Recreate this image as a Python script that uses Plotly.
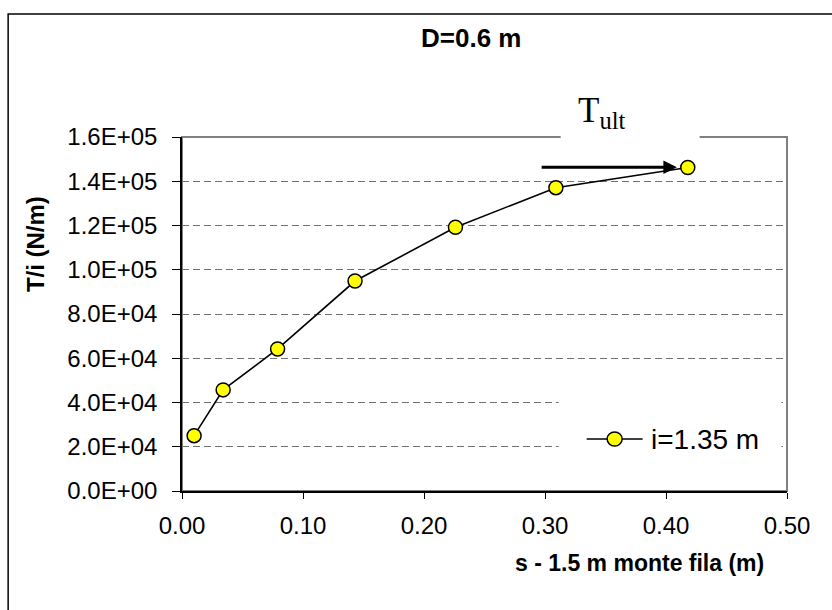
import plotly.graph_objects as go

# Measured settlement vs. tie force per unit spacing
s_disp = [0.010, 0.034, 0.079, 0.143, 0.226, 0.309, 0.418]
t_force = [25000, 45700, 64200, 94900, 119200, 137100, 146200]
series_name = "i=1.35 m"

y_ticks = [0, 20000, 40000, 60000, 80000, 100000, 120000, 140000, 160000]
y_ticktext = [f"{v:.1E}" for v in y_ticks]

# Arrow pointing at the ultimate value
arrow_y = 146300
arrow_x_from = 0.296
arrow_x_to = 0.409

SANS = "Liberation Sans, Arial, sans-serif"
SERIF = "Liberation Serif, Times New Roman, serif"

# plot-area pixel frame used for paper-coordinate placement
L, R, T, B = 182, 787.5, 137, 491


def px(x):
    return (x - L) / (R - L)


def py(y):
    return (B - y) / (B - T)


fig = go.Figure()
fig.add_trace(go.Scatter(
    x=s_disp, y=t_force, mode="lines+markers", name=series_name,
    line=dict(color="black", width=1.6),
    marker=dict(size=14, color="#FFFF00", line=dict(color="black", width=1.5)),
    showlegend=False, cliponaxis=False,
))

fig.update_layout(
    width=832, height=610,
    margin=dict(l=L, r=832 - R, t=T, b=610 - B),
    paper_bgcolor="white", plot_bgcolor="white",
    font=dict(family=SANS, size=24, color="black"),
    xaxis=dict(
        range=[0, 0.5], dtick=0.1, tickformat=".2f",
        showgrid=False, zeroline=False,
        showline=True, linecolor="black", linewidth=1.5,
        ticks="outside", ticklen=6, tickcolor="black", tickwidth=1,
        ticklabelstandoff=6,
        tickfont=dict(size=24, family=SANS),
    ),
    yaxis=dict(
        range=[0, 160000], tickvals=y_ticks, ticktext=y_ticktext,
        showgrid=True, gridcolor="#707070", gridwidth=1.2, griddash="7px,4px",
        zeroline=False,
        showline=True, linecolor="black", linewidth=1.5,
        ticks="outside", ticklen=8, tickcolor="black", tickwidth=1,
        ticklabelstandoff=10,
        tickfont=dict(size=24, family=SANS),
    ),
)

shapes = [
    # outer chart frame
    dict(type="rect", xref="paper", yref="paper",
         x0=px(8), x1=px(840), y0=py(620), y1=py(14),
         line=dict(color="black", width=1.5), fillcolor="rgba(0,0,0,0)", layer="below"),
    # plot-area border (top and right sides show in grey)
    dict(type="rect", xref="paper", yref="paper", x0=0, x1=1, y0=0, y1=1,
         line=dict(color="#808080", width=2), fillcolor="rgba(0,0,0,0)", layer="below"),
    # white backing behind the T_ult label
    dict(type="rect", xref="paper", yref="paper",
         x0=px(561), x1=px(700), y0=py(150), y1=py(95),
         line=dict(width=0), fillcolor="white", layer="above"),
    # legend box
    dict(type="rect", xref="paper", yref="paper",
         x0=px(559), x1=px(782), y0=py(478), y1=py(398),
         line=dict(width=0), fillcolor="white", layer="above"),
    # legend line sample
    dict(type="line", xref="paper", yref="paper",
         x0=px(587), x1=px(643), y0=py(439), y1=py(439),
         line=dict(color="black", width=1.6), layer="above"),
    # legend marker sample
    dict(type="circle", xref="paper", yref="paper",
         xsizemode="pixel", ysizemode="pixel",
         xanchor=px(615), yanchor=py(439),
         x0=-7.5, x1=7.5, y0=-7, y1=7,
         line=dict(color="black", width=1.5), fillcolor="#FFFF00", layer="above"),
]
fig.update_layout(shapes=shapes)

annotations = [
    dict(text="<b>D=0.6 m</b>", xref="paper", yref="paper",
         x=px(471), y=py(38), xanchor="center", yanchor="middle",
         showarrow=False, font=dict(size=26, family=SANS)),
    dict(text="<b>T/i (N/m)</b>", xref="paper", yref="paper",
         x=px(35), y=py(244), xanchor="center", yanchor="middle", textangle=-90,
         showarrow=False, font=dict(size=24, family=SANS)),
    dict(text="<b>s - 1.5 m monte fila (m)</b>", xref="paper", yref="paper",
         x=px(640), y=py(563), xanchor="center", yanchor="middle",
         showarrow=False, font=dict(size=23, family=SANS)),
    dict(text=series_name, xref="paper", yref="paper",
         x=px(649), y=py(439), xanchor="left", yanchor="middle",
         showarrow=False, font=dict(size=28, family=SANS)),
    dict(text="T<sub>ult</sub>", xref="paper", yref="paper",
         x=px(576), y=py(113), xanchor="left", yanchor="middle",
         showarrow=False, font=dict(size=35, family=SERIF)),
    dict(text="", x=arrow_x_to, y=arrow_y, xref="x", yref="y",
         ax=arrow_x_from, ay=arrow_y, axref="x", ayref="y",
         showarrow=True, arrowhead=2, arrowsize=0.9, arrowwidth=3,
         arrowcolor="black", standoff=0),
]
fig.update_layout(annotations=annotations)

fig.write_html("out.html")
